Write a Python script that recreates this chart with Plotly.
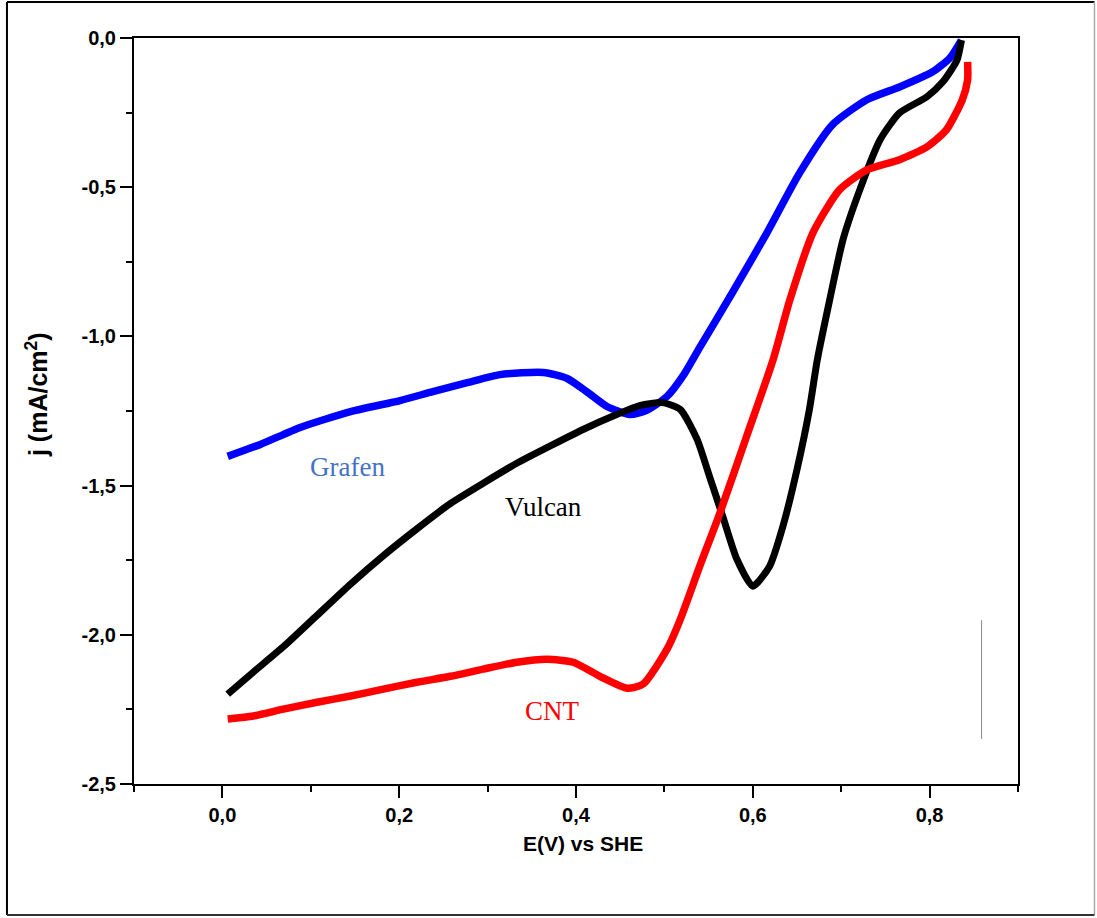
import plotly.graph_objects as go

# Grafen (blue)
grafen_x = [0.006, 0.043, 0.088, 0.145, 0.201, 0.238, 0.277, 0.314, 0.363, 0.390, 0.412, 0.435,
            0.461, 0.480, 0.503, 0.522, 0.540, 0.577, 0.616, 0.653, 0.690, 0.729, 0.766, 0.803,
            0.823, 0.836]
grafen_y = [-1.402, -1.362, -1.305, -1.252, -1.215, -1.185, -1.155, -1.128, -1.121, -1.141, -1.185,
            -1.235, -1.262, -1.248, -1.201, -1.128, -1.037, -0.853, -0.653, -0.452, -0.291, -0.207,
            -0.164, -0.114, -0.067, -0.007]

# Vulcan (black)
vulcan_x = [0.006, 0.035, 0.069, 0.107, 0.145, 0.182, 0.220, 0.258, 0.295, 0.333, 0.371, 0.408,
            0.446, 0.472, 0.498, 0.518, 0.537, 0.551, 0.566, 0.582, 0.600, 0.619, 0.634, 0.650,
            0.664, 0.673, 0.687, 0.702, 0.721, 0.744, 0.766, 0.797, 0.815, 0.831, 0.836]
vulcan_y = [-2.199, -2.125, -2.040, -1.935, -1.830, -1.735, -1.645, -1.560, -1.492, -1.425, -1.367,
            -1.312, -1.262, -1.232, -1.222, -1.245, -1.345, -1.469, -1.603, -1.747, -1.837, -1.770,
            -1.637, -1.446, -1.245, -1.078, -0.877, -0.676, -0.509, -0.341, -0.251, -0.197, -0.147,
            -0.074, -0.007]

# CNT (red)
cnt_x = [0.006, 0.035, 0.069, 0.107, 0.145, 0.182, 0.220, 0.258, 0.295, 0.333, 0.367, 0.397,
         0.427, 0.458, 0.476, 0.503, 0.518, 0.540, 0.563, 0.593, 0.623, 0.642, 0.668, 0.698,
         0.729, 0.766, 0.797, 0.819, 0.837, 0.843, 0.843]
cnt_y = [-2.282, -2.272, -2.249, -2.226, -2.205, -2.182, -2.159, -2.139, -2.115, -2.092, -2.082,
         -2.092, -2.139, -2.179, -2.165, -2.048, -1.948, -1.770, -1.590, -1.335, -1.078, -0.877,
         -0.653, -0.509, -0.442, -0.408, -0.365, -0.308, -0.207, -0.141, -0.080]

labels = ["Grafen", "Vulcan", "CNT"]
label_x = [0.142, 0.363, 0.373]
label_y = [-1.439, -1.573, -2.256]
label_colors = ["#4472C4", "#000000", "#FF0000"]

x_tickvals = [0.0, 0.2, 0.4, 0.6, 0.8]
x_ticktext = ["0,0", "0,2", "0,4", "0,6", "0,8"]
y_tickvals = [0.0, -0.5, -1.0, -1.5, -2.0, -2.5]
y_ticktext = ["0,0", "-0,5", "-1,0", "-1,5", "-2,0", "-2,5"]

x_title = "E(V) vs SHE"
y_title = "j (mA/cm<sup>2</sup>)"

SANS = "Liberation Sans, Arial, sans-serif"
SERIF = "Liberation Serif, Times New Roman, serif"

fig = go.Figure()
fig.add_trace(go.Scatter(x=grafen_x, y=grafen_y, mode="lines", name="Grafen",
                         line=dict(color="#0000FF", width=7.5, shape="spline", smoothing=0.6)))
fig.add_trace(go.Scatter(x=vulcan_x, y=vulcan_y, mode="lines", name="Vulcan",
                         line=dict(color="#000000", width=7, shape="spline", smoothing=0.6)))
fig.add_trace(go.Scatter(x=cnt_x, y=cnt_y, mode="lines", name="CNT",
                         line=dict(color="#FF0000", width=7.5, shape="spline", smoothing=0.6)))

for t, x, y, c in zip(labels, label_x, label_y, label_colors):
    fig.add_annotation(x=x, y=y, xref="x", yref="y", text=t, showarrow=False,
                       xanchor="center", yanchor="middle",
                       font=dict(family=SERIF, size=27, color=c))

fig.add_annotation(x=-0.1097, y=0.5214, xref="paper", yref="paper", text=y_title,
                   showarrow=False, textangle=-90, xanchor="center", yanchor="middle",
                   font=dict(family=SANS, size=25, color="black", weight="bold"))
fig.add_annotation(x=0.508, y=-0.0791, xref="paper", yref="paper", text=x_title,
                   showarrow=False, xanchor="center", yanchor="middle",
                   font=dict(family=SANS, size=21, color="black", weight="bold"))

# stray thin vertical mark
fig.add_shape(type="line", xref="x", yref="y", x0=0.8588, x1=0.8588, y0=-1.951, y1=-2.349,
              line=dict(color="#888888", width=1))

# outer frame
fig.add_shape(type="line", xref="paper", yref="paper", x0=-0.1437, x1=-0.1437, y0=-0.1756, y1=1.0483,
              line=dict(color="black", width=2))
fig.add_shape(type="line", xref="paper", yref="paper", x0=-0.1437, x1=1.0865, y0=1.0483, y1=1.0483,
              line=dict(color="black", width=2))
fig.add_shape(type="line", xref="paper", yref="paper", x0=1.0865, x1=1.0865, y0=-0.1756, y1=1.0483,
              line=dict(color="#aaaaaa", width=1.5))
fig.add_shape(type="line", xref="paper", yref="paper", x0=-0.1437, x1=1.0865, y0=-0.1756, y1=-0.1756,
              line=dict(color="#333333", width=2))

fig.update_layout(
    width=1097, height=918,
    margin=dict(l=134, r=79, t=38, b=134),
    paper_bgcolor="white", plot_bgcolor="white",
    showlegend=False,
    xaxis=dict(range=[-0.1, 0.9], tickmode="array", tickvals=x_tickvals, ticktext=x_ticktext,
               showgrid=False, zeroline=False, showline=True, mirror=True,
               linecolor="black", linewidth=2, ticks="outside", ticklen=12, tickwidth=2,
               tickcolor="black",
               minor=dict(tickmode="linear", dtick=0.1, tick0=0, ticks="outside", ticklen=6,
                          tickwidth=2, tickcolor="black", showgrid=False),
               tickfont=dict(family=SANS, size=20, color="black", weight="bold")),
    yaxis=dict(range=[-2.5, 0], tickmode="array", tickvals=y_tickvals, ticktext=y_ticktext,
               showgrid=False, zeroline=False, showline=True, mirror=True,
               linecolor="black", linewidth=2, ticks="outside", ticklen=12, tickwidth=2,
               tickcolor="black",
               minor=dict(tickmode="linear", dtick=0.25, tick0=0, ticks="outside", ticklen=6,
                          tickwidth=2, tickcolor="black", showgrid=False),
               tickfont=dict(family=SANS, size=20, color="black", weight="bold")),
)

fig.write_html("out.html", config={"displayModeBar": False},
               post_script="document.body.style.margin='0';")
